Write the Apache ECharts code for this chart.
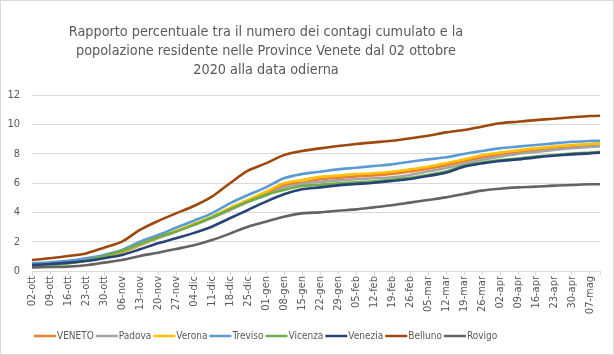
<!DOCTYPE html>
<html><head><meta charset="utf-8">
<script src="https://cdn.jsdelivr.net/npm/echarts@6/dist/echarts.min.js"></script>
<style>html,body{margin:0;padding:0;background:#fff}#c{width:614px;height:355px}</style>
</head><body><div id="c"></div>
<script>
const tickLabels = ['02-ott','09-ott','16-ott','23-ott','30-ott','06-nov','13-nov','20-nov','27-nov','04-dic','11-dic','18-dic','25-dic','01-gen','08-gen','15-gen','22-gen','29-gen','05-feb','12-feb','19-feb','26-feb','05-mar','12-mar','19-mar','26-mar','02-apr','09-apr','16-apr','23-apr','30-apr','07-mag'];
// days since 02-ott (weekly readings + last day 11-mag)
const days = [0,7,14,21,28,35,42,49,56,63,70,77,84,91,98,105,112,119,126,133,140,147,154,161,168,175,182,189,196,203,210,217,221];
const seriesNames = ['VENETO','Padova','Verona','Treviso','Vicenza','Venezia','Belluno','Rovigo'];
const veneto  = [0.45,0.52,0.62,0.77,0.97,1.30,1.78,2.25,2.70,3.15,3.65,4.20,4.75,5.25,5.86,6.02,6.25,6.35,6.45,6.52,6.62,6.78,6.98,7.20,7.48,7.74,7.93,8.08,8.21,8.33,8.44,8.52,8.56];
const padova  = [0.42,0.48,0.58,0.72,0.92,1.25,1.75,2.25,2.70,3.15,3.62,4.15,4.70,5.15,5.70,5.93,6.08,6.18,6.26,6.32,6.39,6.55,6.78,7.02,7.30,7.58,7.80,7.98,8.12,8.25,8.37,8.46,8.50];
const verona  = [0.50,0.56,0.65,0.80,1.00,1.32,1.80,2.30,2.73,3.20,3.70,4.30,4.84,5.40,5.98,6.20,6.43,6.50,6.61,6.66,6.77,6.93,7.11,7.35,7.60,7.89,8.07,8.23,8.36,8.48,8.59,8.66,8.70];
const treviso = [0.52,0.59,0.70,0.87,1.09,1.43,2.00,2.45,2.95,3.43,3.93,4.61,5.18,5.70,6.32,6.61,6.77,6.93,7.04,7.16,7.27,7.45,7.61,7.75,7.98,8.18,8.36,8.48,8.59,8.70,8.81,8.86,8.88];
const vicenza = [0.38,0.43,0.52,0.70,1.02,1.38,1.84,2.30,2.68,3.15,3.65,4.20,4.73,5.18,5.52,5.79,5.88,5.98,6.05,6.12,6.22,6.35,6.55,6.78,7.18,7.40,7.56,7.67,7.80,7.91,8.00,8.07,8.12];
const venezia = [0.41,0.48,0.57,0.68,0.87,1.09,1.48,1.89,2.23,2.60,3.02,3.60,4.16,4.73,5.23,5.57,5.70,5.84,5.93,6.02,6.14,6.27,6.48,6.70,7.11,7.34,7.50,7.61,7.75,7.86,7.95,8.02,8.07];
const belluno = [0.75,0.87,1.02,1.20,1.59,2.00,2.80,3.40,3.93,4.43,5.07,5.98,6.84,7.34,7.90,8.18,8.36,8.52,8.66,8.77,8.88,9.04,9.22,9.45,9.61,9.84,10.07,10.18,10.29,10.38,10.48,10.57,10.59];
const rovigo  = [0.25,0.27,0.30,0.39,0.57,0.75,1.02,1.25,1.50,1.75,2.11,2.55,3.02,3.36,3.70,3.93,4.00,4.11,4.20,4.34,4.48,4.66,4.84,5.02,5.25,5.48,5.61,5.70,5.75,5.82,5.86,5.91,5.91];
const yTicks = [0,2,4,6,8,10,12];

const values = [veneto,padova,verona,treviso,vicenza,venezia,belluno,rovigo];
const colors = ['#ED7D31','#A5A5A5','#FFC000','#5B9BD5','#70AD47','#264478','#9E480E','#636363'];
const FONT = '"Liberation Sans Narrow","DejaVu Sans Condensed",sans-serif';

const chart = echarts.init(document.getElementById('c'), null, {renderer:'canvas'});
chart.setOption({
  animation:false,
  backgroundColor:'#fff',
  graphic:[{type:'rect',shape:{x:0.5,y:0.5,width:613,height:354},style:{fill:'none',stroke:'#D9D9D9',lineWidth:1}}],
  title:{
    text:'Rapporto percentuale tra il numero dei contagi cumulato e la\npopolazione residente nelle Province Venete dal 02 ottobre\n2020 alla data odierna',
    left:261, top:18, textAlign:'center',
    textStyle:{fontFamily:FONT,fontSize:14.3,fontWeight:'normal',color:'#595959',lineHeight:19}
  },
  legend:{
    data:seriesNames, left:29, top:326, itemWidth:22, itemHeight:10, itemGap:2,
    icon:'path://M0,4L22,4L22,6.5L0,6.5Z',
    textStyle:{fontFamily:FONT,fontSize:10,color:'#595959',padding:[0,0,0,-4]}
  },
  grid:{left:32,right:14,top:95,bottom:84,containLabel:false},
  xAxis:{
    type:'value', min:0, max:221, interval:7,
    axisLine:{show:true,lineStyle:{color:'#D9D9D9',width:1}},
    axisTick:{show:true,length:4,lineStyle:{color:'#D9D9D9'}},
    splitLine:{show:false},
    axisLabel:{rotate:90,margin:5,fontFamily:FONT,fontSize:11,color:'#595959',showMaxLabel:true,
      formatter:v=>{const i=Math.round(v/7);return (v%7===0 && tickLabels[i])?tickLabels[i]:'';}}
  },
  yAxis:{
    type:'value', min:yTicks[0], max:yTicks[yTicks.length-1], interval:2,
    axisLine:{show:false}, axisTick:{show:false},
    splitLine:{lineStyle:{color:'#D9D9D9',width:1}},
    axisLabel:{fontFamily:FONT,fontSize:11,color:'#595959',margin:12}
  },
  series:seriesNames.map((n,k)=>({
    name:n,type:'line',symbol:'none',smooth:0.3,
    lineStyle:{width:2.6,color:colors[k]},itemStyle:{color:colors[k]},
    data:days.map((d,i)=>[d,values[k][i]])
  }))
});
</script></body></html>
